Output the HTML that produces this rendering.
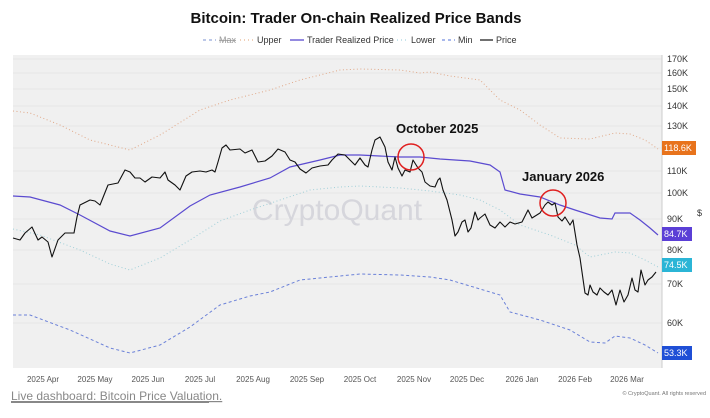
<!DOCTYPE html>
<html><head><meta charset="utf-8"><style>
body{margin:0;background:#fff;width:710px;height:413px;overflow:hidden;font-family:"Liberation Sans",sans-serif}
</style></head><body>
<svg width="710" height="413" xmlns="http://www.w3.org/2000/svg" font-family="Liberation Sans, sans-serif">
<text x="356" y="23" text-anchor="middle" font-size="15" font-weight="bold" fill="#111">Bitcoin: Trader On-chain Realized Price Bands</text>
<g font-size="9" fill="#333">
<line x1="203" y1="40" x2="216" y2="40" stroke="#7890d0" stroke-dasharray="3,3"/>
<text x="219" y="43" fill="#999" text-decoration="line-through">Max</text>
<line x1="240" y1="40" x2="253" y2="40" stroke="#e0a070" stroke-dasharray="1,3"/>
<text x="257" y="43">Upper</text>
<line x1="290" y1="40" x2="304" y2="40" stroke="#5b4bd0" stroke-width="1.3"/>
<text x="307" y="43">Trader Realized Price</text>
<line x1="397" y1="40" x2="408" y2="40" stroke="#90c8d8" stroke-dasharray="1,3"/>
<text x="411" y="43">Lower</text>
<line x1="442" y1="40" x2="455" y2="40" stroke="#5070d8" stroke-dasharray="3,3"/>
<text x="458" y="43">Min</text>
<line x1="480" y1="40" x2="493" y2="40" stroke="#111" stroke-width="1.2"/>
<text x="496" y="43">Price</text>
</g>
<rect x="13" y="55" width="649" height="313" fill="#f0f0f0"/>
<g stroke="#e6e6e6" stroke-width="1">
<line x1="13" x2="662" y1="59" y2="59"/><line x1="13" x2="662" y1="73" y2="73"/><line x1="13" x2="662" y1="89" y2="89"/><line x1="13" x2="662" y1="106" y2="106"/><line x1="13" x2="662" y1="126" y2="126"/><line x1="13" x2="662" y1="148" y2="148"/><line x1="13" x2="662" y1="171" y2="171"/><line x1="13" x2="662" y1="193" y2="193"/><line x1="13" x2="662" y1="219" y2="219"/><line x1="13" x2="662" y1="250" y2="250"/><line x1="13" x2="662" y1="284" y2="284"/><line x1="13" x2="662" y1="323" y2="323"/>
</g>
<line x1="662" y1="55" x2="662" y2="368" stroke="#ccc"/>
<text x="337" y="220" text-anchor="middle" font-size="30" fill="#d6d6dc">CryptoQuant</text>
<g fill="none">
<polyline stroke="#e0a888" stroke-width="1" stroke-dasharray="1,2.5" points="13,111 30,113 60,125 90,140 130,150 160,135 200,110 230,100 270,90 300,80 340,70 360,69 400,70 420,73 430,72 450,76 480,80 500,100 520,110 540,125 560,138 590,139 615,133 630,134 645,140 658,149"/>
<polyline stroke="#a0cfd8" stroke-width="1" stroke-dasharray="1,2.5" points="13,229 40,235 80,250 110,264 130,270 160,258 190,240 220,221 250,210 280,200 310,190 340,187 360,186 400,188 430,191 460,195 480,200 500,210 520,225 550,235 575,245 590,257 615,252 630,253 645,260 658,267"/>
<polyline stroke="#6a80d8" stroke-width="1" stroke-dasharray="3,2.5" points="13,315 30,315 70,330 110,348 130,353 160,345 190,327 220,305 250,296 270,292 300,280 320,278 360,274 400,275 430,277 450,280 500,295 510,312 540,320 570,330 590,342 605,343 615,336 630,338 645,345 658,353"/>
<polyline stroke="#5b4bd0" stroke-width="1.2" points="13,196 30,197 60,205 80,215 110,231 130,236 160,228 190,206 210,195 240,187 270,178 290,167 320,160 340,155 360,155 400,157 420,157 440,159 470,161 490,165 500,172 505,190 520,194 540,197 560,205 575,210 600,218 612,219 615,213 630,213 640,220 650,228 658,235"/>
<polyline stroke="#111" stroke-width="1.1" stroke-linejoin="round" points="13,238 20,240 25,233 32,227 38,240 42,237 48,242 52,257 58,240 65,233 74,233 77,217 80,205 90,200 95,201 100,205 108,185 118,183 125,170 130,172 135,178 140,178 145,182 152,177 160,178 165,172 168,180 175,185 180,190 186,176 192,172 200,171 206,172 212,170 215,172 218,162 222,148 226,145 230,150 240,149 245,153 252,150 258,162 265,161 272,156 278,149 285,152 290,160 295,162 300,169 306,173 312,168 320,166 328,165 332,160 338,154 345,155 350,160 355,165 360,158 365,165 368,167 372,150 375,140 380,137 385,147 388,162 392,170 395,157 398,168 402,176 405,170 410,172 413,160 418,168 420,170 422,172 425,182 430,186 435,187 438,180 440,178 443,190 447,200 452,220 455,236 458,232 462,222 465,220 468,232 471,228 475,212 478,220 480,218 485,214 490,225 495,228 500,222 505,227 510,222 515,224 522,222 528,210 532,218 540,213 545,205 548,202 552,205 555,203 558,217 562,221 565,217 570,225 573,220 577,245 580,258 582,272 585,293 588,295 590,285 593,292 597,295 600,288 604,292 608,295 612,290 616,305 620,290 624,302 628,295 632,278 635,290 638,292 641,270 645,285 648,280 652,277 656,272"/>
<circle cx="411" cy="157" r="13" stroke="#e02020" stroke-width="1.5"/>
<circle cx="553" cy="203" r="13" stroke="#e02020" stroke-width="1.5"/>
</g>
<text x="396" y="133" font-size="13" font-weight="bold" fill="#111">October 2025</text>
<text x="522" y="181" font-size="13" font-weight="bold" fill="#111">January 2026</text>
<g font-size="9" fill="#333">
<text x="667" y="62">170K</text><text x="667" y="76">160K</text><text x="667" y="92">150K</text><text x="667" y="109">140K</text><text x="667" y="129">130K</text><text x="667" y="174">110K</text><text x="667" y="196">100K</text><text x="667" y="222">90K</text><text x="667" y="253">80K</text><text x="667" y="287">70K</text><text x="667" y="326">60K</text>
<text x="697" y="216">$</text>
</g>
<g font-size="9" fill="#fff">
<rect x="662" y="141" width="34" height="14" fill="#e8731c"/><text x="664" y="151">118.6K</text>
<rect x="662" y="227" width="30" height="14" fill="#5b3fd6"/><text x="664" y="237">84.7K</text>
<rect x="662" y="258" width="30" height="14" fill="#2bb5d6"/><text x="664" y="268">74.5K</text>
<rect x="662" y="346" width="30" height="14" fill="#1f4fd6"/><text x="664" y="356">53.3K</text>
</g>
<g font-size="8" fill="#555" text-anchor="middle">
<text x="43" y="382">2025 Apr</text><text x="95" y="382">2025 May</text><text x="148" y="382">2025 Jun</text><text x="200" y="382">2025 Jul</text><text x="253" y="382">2025 Aug</text><text x="307" y="382">2025 Sep</text><text x="360" y="382">2025 Oct</text><text x="414" y="382">2025 Nov</text><text x="467" y="382">2025 Dec</text><text x="522" y="382">2026 Jan</text><text x="575" y="382">2026 Feb</text><text x="627" y="382">2026 Mar</text>
</g>
<text x="11" y="400" font-size="12" fill="#888" text-decoration="underline">Live dashboard: Bitcoin Price Valuation.</text>
<line x1="11" y1="402" x2="209" y2="402" stroke="#888" stroke-width="2"/>
<text x="706" y="395" font-size="5.5" fill="#777" text-anchor="end">© CryptoQuant. All rights reserved</text>
</svg>
</body></html>
